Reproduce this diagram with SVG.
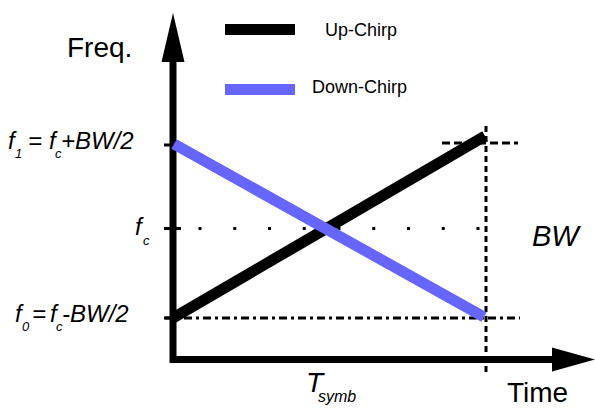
<svg xmlns="http://www.w3.org/2000/svg" width="595" height="408" viewBox="0 0 595 408">
<style>
text{font-family:"Liberation Sans",Arial,sans-serif;fill:#000}
.it{font-style:italic}
.axis{stroke:#000;stroke-width:7;fill:none}
.guide{stroke:#000;stroke-width:3;fill:none}
.up{stroke:#000;stroke-width:11;fill:none}
.down{stroke:#6666ff;stroke-width:11;fill:none}
</style>
<rect width="595" height="408" fill="#fff"/>
<g id="connectors">
  <line class="guide" x1="198.5" y1="228.5" x2="481" y2="228.5" stroke-dasharray="3 31.75"/>
  <line class="guide" x1="165" y1="318" x2="520" y2="318" stroke-dasharray="8 4 3 4"/>
  <line class="guide" x1="442" y1="143" x2="518" y2="143" stroke-dasharray="8 4"/>
  <line class="guide" x1="486" y1="126" x2="486" y2="372" stroke-dasharray="6 4"/>
  <line class="guide" x1="164" y1="145" x2="181" y2="145"/>
  <line class="guide" x1="164" y1="228.5" x2="181" y2="228.5"/>
  <line class="guide" x1="164" y1="318" x2="181" y2="318"/>
  <polyline class="axis" points="173,60 173,359.5 552,359.5"/>
  <polygon points="161.5,62 173,13 184.5,62" fill="#000"/>
  <polygon points="552,347.5 595,359.5 552,371.5" fill="#000"/>
  <line class="up" x1="173" y1="318" x2="485" y2="136"/>
  <line class="down" x1="174" y1="144" x2="484" y2="317"/>
</g>
<g id="legend">
  <line class="up" x1="225" y1="29.5" x2="295" y2="29.5"/>
  <text x="325" y="36" font-size="18">Up-Chirp</text>
  <line class="down" x1="225" y1="89.5" x2="295" y2="89.5"/>
  <text x="312" y="93" font-size="18">Down-Chirp</text>
</g>
<g id="labels">
  <text x="67" y="57" font-size="28">Freq.</text>
  <text x="507" y="402" font-size="28">Time</text>
  <text class="it" x="532" y="246" font-size="29">BW</text>
  <text class="it" font-size="28"><tspan x="306" y="392">T</tspan><tspan x="318" y="402" font-size="16">symb</tspan></text>
  <text class="it" font-size="24"><tspan x="8" y="149">f</tspan><tspan x="15" y="158" font-size="13">1</tspan><tspan x="28" y="149">=</tspan><tspan x="49" y="149">f</tspan><tspan x="55" y="158" font-size="13">c</tspan><tspan x="61" y="149">+BW/2</tspan></text>
  <text class="it" font-size="24"><tspan x="135" y="235">f</tspan><tspan x="143" y="245" font-size="13">c</tspan></text>
  <text class="it" font-size="24"><tspan x="15" y="322">f</tspan><tspan x="22" y="331" font-size="13">0</tspan><tspan x="32" y="322">=</tspan><tspan x="50" y="322">f</tspan><tspan x="56" y="331" font-size="13">c</tspan><tspan x="62" y="322">-BW/2</tspan></text>
</g>
</svg>
